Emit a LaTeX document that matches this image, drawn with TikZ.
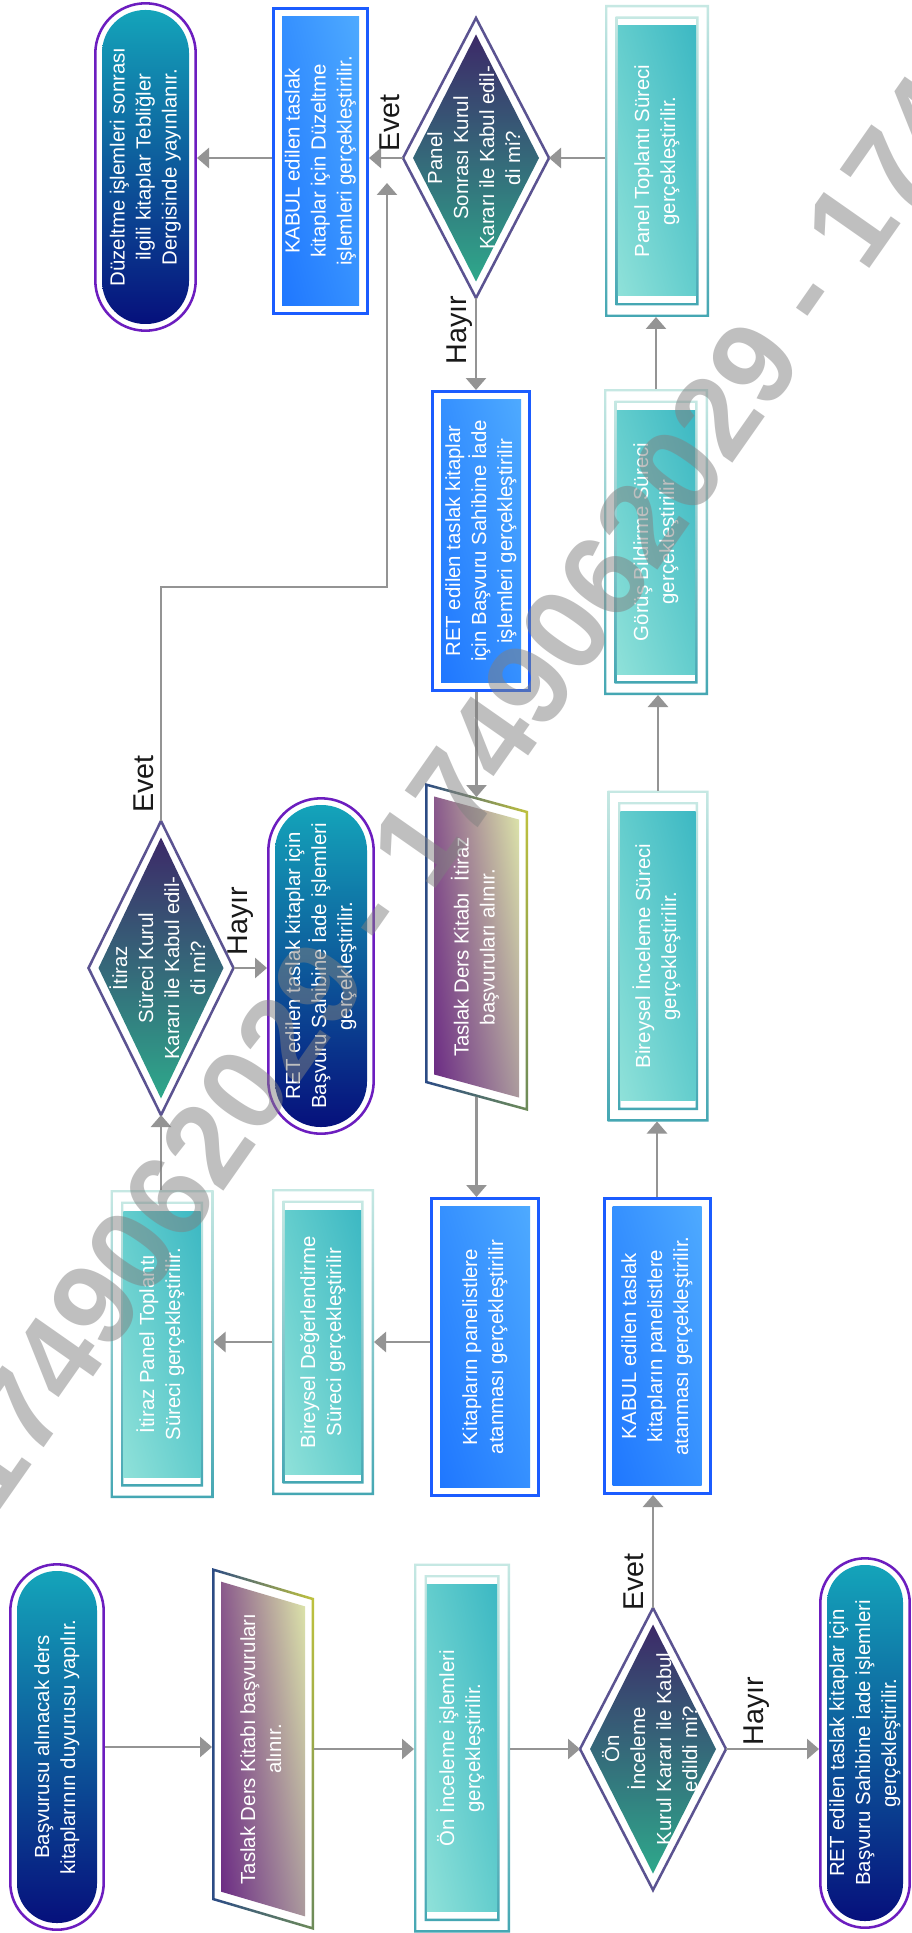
\documentclass[tikz,border=0pt]{standalone}
\usepackage{fontspec}
\setmainfont{Liberation Sans}
\usepackage{graphicx}
\usetikzlibrary{arrows.meta,shapes.geometric,shadings}

\definecolor{arrowgray}{HTML}{949494}
\definecolor{tealLight}{HTML}{8FE1D9}
\definecolor{tealMid}{HTML}{63CDCD}
\definecolor{tealDark}{HTML}{3CB8C3}
\definecolor{tealRimTop}{HTML}{C6E8E3}
\definecolor{tealRimBot}{HTML}{45A7B3}
\definecolor{blueRim}{HTML}{1B5CFF}
\definecolor{blueLight}{HTML}{4EAAFF}
\definecolor{blueMid}{HTML}{3590FF}
\definecolor{blueDeep}{HTML}{1F77FF}
\definecolor{termRim}{HTML}{6C1DBF}
\definecolor{termTop}{HTML}{14A4BA}
\definecolor{termMid}{HTML}{0B5BA1}
\definecolor{termBot}{HTML}{06107C}
\definecolor{diaRim}{HTML}{5B5391}
\definecolor{diaTop}{HTML}{3C2968}
\definecolor{diaMid}{HTML}{35707B}
\definecolor{diaBot}{HTML}{2EA88B}
\definecolor{paraUL}{HTML}{8A5A8C}
\definecolor{paraUR}{HTML}{DFE8AA}
\definecolor{paraLL}{HTML}{6A2984}
\definecolor{paraLR}{HTML}{AB9A9D}
\definecolor{paraRimL}{HTML}{2B4B85}
\definecolor{paraRimUR}{HTML}{C8C83B}
\definecolor{paraRimLR}{HTML}{6D8B59}

\tikzset{
  boxnode/.style={rectangle, inner sep=0pt, outer sep=0pt, text=white,
    font=\fontsize{15.3}{19.5}\selectfont},
  dianode/.style={diamond, draw=diaRim, line width=1.9pt, inner sep=0pt, outer sep=0pt},
  tealframe/.style={top color=tealRimTop, bottom color=tealRimBot},
  tealfill/.style={upper left=tealMid, upper right=tealDark, lower left=tealLight, lower right=tealMid},
  blueframe/.style={draw=blueRim, line width=2.25pt},
  bluefill/.style={upper left=blueMid, upper right=blueLight, lower left=blueDeep, lower right=blueMid},
  termframe/.style={draw=termRim, line width=1.9pt},
  termfill/.style={top color=termTop, middle color=termMid, bottom color=termBot},
  diafill/.style={top color=diaTop, middle color=diaMid, bottom color=diaBot},
  parafill/.style={upper left=paraUL, upper right=paraUR, lower left=paraLL, lower right=paraLR},
  paraframe/.style={upper left=paraRimL, upper right=paraRimUR, lower left=paraRimL, lower right=paraRimLR},
  arr/.style={draw=arrowgray, line width=2pt, -{Triangle[length=9pt,width=15pt]}},
  lab/.style={rotate=90, inner sep=0pt, text=black!90, font=\fontsize{21.5}{24}\selectfont},
}

% text set upright in the page, read from bottom to top
\newcommand\vtext[1]{\rotatebox{90}{\begin{tabular}{@{}c@{}}#1\end{tabular}}}

% terminal: name, cx, cy, w, h, text
\newcommand\termnode[6]{%
  \draw[termframe, rounded corners={(#4/2-1.3)*0.75pt}]
    (#2-#4/2+1.3,#3-#5/2+1.3) rectangle (#2+#4/2-1.3,#3+#5/2-1.3);
  \shade[termfill, rounded corners={(#4/2-8.5)*0.75pt}]
    (#2-#4/2+8,#3-#5/2+8) rectangle (#2+#4/2-8,#3+#5/2-8);
  \node[boxnode, minimum width={#4*0.75pt}, minimum height={#5*0.75pt}] (#1) at (#2,#3) {\vtext{#6}};
}

% teal process box with double rim: name, cx, cy, w, h, text
\newcommand\tealproc[6]{%
  \shade[tealframe, even odd rule]
    (#2-#4/2,#3-#5/2) rectangle (#2+#4/2,#3+#5/2)
    (#2-#4/2+2.4,#3-#5/2+2.4) rectangle (#2+#4/2-2.4,#3+#5/2-2.4);
  \shade[tealframe, even odd rule]
    (#2-#4/2+10.5,#3-#5/2+11.5) rectangle (#2+#4/2-10.5,#3+#5/2-11.5)
    (#2-#4/2+12.9,#3-#5/2+13.9) rectangle (#2+#4/2-12.9,#3+#5/2-13.9);
  \shade[tealfill] (#2-#4/2+12.9,#3-#5/2+21) rectangle (#2+#4/2-12.9,#3+#5/2-21);
  \node[boxnode, minimum width={#4*0.75pt}, minimum height={#5*0.75pt}] (#1) at (#2,#3) {\vtext{#6}};
}

% blue process box: name, cx, cy, w, h, text
\newcommand\blueproc[6]{%
  \draw[blueframe] (#2-#4/2+1.5,#3-#5/2+1.5) rectangle (#2+#4/2-1.5,#3+#5/2-1.5);
  \shade[bluefill] (#2-#4/2+10,#3-#5/2+9.5) rectangle (#2+#4/2-10,#3+#5/2-9.5);
  \node[boxnode, minimum width={#4*0.75pt}, minimum height={#5*0.75pt}] (#1) at (#2,#3) {\vtext{#6}};
}

% decision diamond: name, cx, cy, w, h, text
\newcommand\decision[6]{%
  \shade[diafill] (#2,#3-#5/2+16.5) -- (#2+#4/2-10,#3) -- (#2,#3+#5/2-16.5) -- (#2-#4/2+10,#3) -- cycle;
  \node[dianode, minimum width={#4*0.75pt}, minimum height={#5*0.75pt}] (#1) at (#2,#3) {};
  \node[boxnode] (#1t) at (#1) {\vtext{#6}};
}

% slanted data box outline: cx, cy, w, mid height, slant, horizontal inset, vertical inset
\newcommand\parapath[7]{%
  (#1-#3/2+#6, #2-#4/2-#5/2+#5*#6/#3+#7) -- (#1+#3/2-#6, #2-#4/2+#5/2-#5*#6/#3+#7) --
  (#1+#3/2-#6, #2+#4/2+#5/2-#5*#6/#3-#7) -- (#1-#3/2+#6, #2+#4/2-#5/2+#5*#6/#3-#7) -- cycle}

% data box: name, cx, cy, w, mid height, slant, text
\newcommand\paraio[7]{%
  \shade[paraframe, even odd rule] \parapath{#2}{#3}{#4}{#5}{#6}{0}{0} \parapath{#2}{#3}{#4}{#5}{#6}{2.5}{2.6};
  \shade[parafill] \parapath{#2}{#3}{#4}{#5}{#6}{9}{11};
  \node[boxnode, minimum width={#4*0.75pt}, minimum height={#5*0.75pt}] (#1) at (#2,#3) {\vtext{#7}};
}

\begin{document}
\begin{tikzpicture}[x=0.75pt, y=-0.75pt]
\useasboundingbox (0,0) rectangle (911,1933);
\clip (0,0) rectangle (911,1933);
\fill[white] (0,0) rectangle (911,1933);

% ---- application stage ----
\termnode{T1}{57}{1747}{96}{368}{Başvurusu alınacak ders\\kitaplarının duyurusu yapılır.}
\paraio{P1}{263}{1749}{102}{332}{30}{Taslak Ders Kitabı başvuruları\\alınır.}
\tealproc{B1}{462}{1748}{96}{369}{Ön İnceleme işlemleri\\gerçekleştirilir.}
\decision{D1}{653}{1749}{146}{282}{Ön\\İnceleme\\Kurul Kararı ile Kabul\\edildi mi?}
\termnode{T2}{865}{1743}{92}{372}{RET edilen taslak kitaplar için\\Başvuru Sahibine İade işlemleri\\gerçekleştirilir.}

% ---- panel assignment ----
\blueproc{B2}{657}{1346}{109}{298}{KABUL edilen taslak\\kitapların panelistlere\\atanması gerçekleştirilir.}
\blueproc{B3}{485}{1347}{110}{300}{Kitapların panelistlere\\atanması gerçekleştirilir}
\tealproc{B4}{323}{1342}{102}{306}{Bireysel Değerlendirme\\Süreci gerçekleştirilir}
\tealproc{B5}{162}{1344}{103}{308}{İtiraz Panel Toplantı\\Süreci gerçekleştirilir.}

% ---- objection stage ----
\decision{D2}{161}{968}{145}{294}{İtiraz\\Süreci Kurul\\Kararı ile Kabul edil-\\di mi?}
\termnode{T3}{321}{966}{108}{338}{RET edilen taslak kitaplar için\\Başvuru Sahibine İade işlemleri\\gerçekleştirilir.}
\paraio{P2}{476.5}{947}{103}{300}{28}{Taslak Ders Kitabı\ \ İtiraz\\başvuruları alınır.}
\tealproc{B6}{658}{956}{101}{331}{Bireysel İnceleme Süreci\\gerçekleştirilir.}

% ---- panel review ----
\blueproc{B7}{481}{541}{100}{302}{RET edilen taslak kitaplar\\için Başvuru Sahibine İade\\işlemleri gerçekleştirilir}
\tealproc{B8}{656}{542}{104}{306}{Görüş Bildirme Süreci\\gerçekleştirilir}
\tealproc{B9}{657}{161}{104}{312}{Panel Toplantı Süreci\\gerçekleştirilir.}
\decision{D3}{476}{158}{146}{280}{Panel\\Sonrası Kurul\\Kararı ile Kabul edil-\\di mi?}
\blueproc{B10}{320.5}{161}{97}{308}{KABUL edilen taslak\\kitaplar için Düzeltme\\işlemleri gerçekleştirilir.}
\termnode{T4}{145.5}{167}{103}{330}{Düzeltme işlemleri sonrası\\ilgili kitaplar Tebliğler\\Dergisinde yayınlanır.}

% ---- connectors ----
\draw[arr] (T1.east) -- (T1.east -| P1.west);
\draw[arr] (P1.east) -- (P1.east -| B1.west);
\draw[arr] (B1.east |- D1.west) -- (D1.west);
\draw[arr] (D1.east) -- (D1.east -| T2.west);
\draw[arr] (D1.north) -- (D1.north |- B2.south);
\draw[arr] (B2.north) -- (B2.north |- B6.south);
\draw[arr] (B6.north) -- (B6.north |- B8.south);
\draw[arr] (B8.north) -- (B8.north |- B9.south);
\draw[arr] (B9.west |- D3.east) -- (D3.east);
\draw[arr] (D3.west) -- (D3.west -| B10.east);
\draw[arr] (B10.west |- D3.west) -- (T4.east |- D3.west);
\draw[arr] (D3.south) -- (D3.south |- B7.north);
\draw[arr] (P2.north |- B7.south) -- (P2.north);
\draw[arr] (P2.south) -- (P2.south |- B3.north);
\draw[arr] (B4.east -| B3.west) -- (B4.east);
\draw[arr] (B4.west) -- (B4.west -| B5.east);
\draw[arr] (D2.south |- B5.north) -- (D2.south);
\draw[arr] (D2.east) -- (D2.east -| T3.west);
\coordinate (evetbend) at (387,587);
\coordinate (evetjoin) at (387,183);
\draw[arr] (D2.north) |- (evetbend) -- (evetjoin);

% ---- branch labels ----
\node[lab] (l1) at (634,1582) {Evet};
\node[lab] (l2) at (757,1711) {Hayır};
\node[lab] (l3) at (144,784) {Evet};
\node[lab] (l4) at (241,921) {Hayır};
\node[lab] (l5) at (390,123) {Evet};
\node[lab] (l6) at (460,330) {Hayır};

% ---- overlay number ----
\node[rotate=55, anchor=base west, inner sep=0pt, text=black!50, text opacity=0.5,
  font=\fontsize{88.1}{100}\selectfont\bfseries] (stamp) at (-3.5,1515.4)
  {1749062029 - 1749062029 - 1749062029};
\end{tikzpicture}
\end{document}
